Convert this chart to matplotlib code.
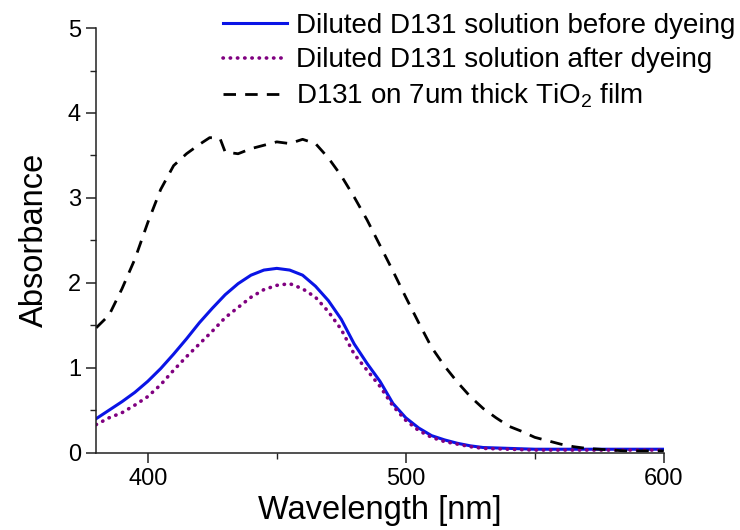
import numpy as np
import matplotlib
matplotlib.use("Agg")
import matplotlib.pyplot as plt
from matplotlib.ticker import MultipleLocator

plt.rcParams['font.family'] = ['Liberation Sans', 'DejaVu Sans']
plt.rcParams['mathtext.fontset'] = 'custom'
plt.rcParams['mathtext.rm'] = 'Liberation Sans'
plt.rcParams['mathtext.it'] = 'Liberation Sans:italic'

# wavelength grid [nm] and absorbance
wl_sol = [380, 385, 390, 395, 400, 405, 410, 415, 420, 425, 430, 435, 440, 445,
          450, 455, 460, 465, 470, 475, 480, 485, 490, 495, 500, 505, 510, 515,
          520, 525, 530, 540, 550, 575, 600]
before = [0.40, 0.50, 0.60, 0.71, 0.84, 0.99, 1.16, 1.34, 1.53, 1.70, 1.86, 1.99,
          2.09, 2.15, 2.17, 2.15, 2.09, 1.96, 1.79, 1.57, 1.28, 1.05, 0.84, 0.58,
          0.41, 0.29, 0.20, 0.15, 0.11, 0.08, 0.06, 0.05, 0.04, 0.04, 0.04]
after = [0.33, 0.41, 0.47, 0.56, 0.66, 0.80, 0.97, 1.13, 1.28, 1.43, 1.59, 1.71,
         1.83, 1.92, 1.97, 1.99, 1.93, 1.83, 1.66, 1.45, 1.16, 0.97, 0.78, 0.55,
         0.38, 0.26, 0.18, 0.13, 0.10, 0.07, 0.05, 0.04, 0.03, 0.03, 0.03]

wl_film = [380, 385, 390, 395, 400, 405, 410, 415, 420, 424, 428, 430, 435, 440,
           445, 450, 455, 460, 465, 470, 475, 480, 485, 490, 495, 500, 505, 510,
           515, 520, 525, 530, 535, 540, 545, 550, 555, 560, 565, 570, 575, 585, 600]
film = [1.47, 1.62, 1.93, 2.28, 2.71, 3.10, 3.38, 3.52, 3.63, 3.71, 3.70, 3.54,
        3.52, 3.58, 3.62, 3.66, 3.64, 3.69, 3.64, 3.47, 3.26, 3.01, 2.74, 2.44,
        2.14, 1.83, 1.53, 1.24, 1.02, 0.83, 0.66, 0.52, 0.41, 0.31, 0.25, 0.18,
        0.14, 0.10, 0.07, 0.05, 0.04, 0.02, 0.02]

fig = plt.figure(figsize=(7.4, 5.3), dpi=100)
ax = fig.add_axes([0.130, 0.146, 0.767, 0.801])

ax.plot(wl_sol, before, color='#0a14e6', lw=2.2, label='Diluted D131 solution before dyeing')
ax.plot(wl_sol, after, color='#800080', lw=2.6, dashes=(0.1, 1.9),
        dash_capstyle='round', label='Diluted D131 solution after dyeing')
ax.plot(wl_film, film, color='black', lw=2.0, dashes=(4.5, 3.3),
        label='D131 on 7um thick TiO$_2$ film')

ax.set_xlim(380, 600)
ax.set_ylim(0, 5)
ax.xaxis.set_major_locator(MultipleLocator(100))
ax.xaxis.set_minor_locator(MultipleLocator(50))
ax.yaxis.set_major_locator(MultipleLocator(1))
ax.yaxis.set_minor_locator(MultipleLocator(0.5))

for side in ['top', 'right']:
    ax.spines[side].set_visible(False)
for side in ['left', 'bottom']:
    ax.spines[side].set_linewidth(1.1)
    ax.spines[side].set_color('#222222')

ax.tick_params(which='major', direction='out', length=7, width=1.1,
               labelsize=17, color='#222222', pad=4)
ax.tick_params(which='minor', direction='out', length=4, width=1.0, color='#222222')

ax.set_xlabel('Wavelength [nm]', fontsize=23.5, labelpad=4)
ax.set_ylabel('Absorbance', fontsize=23.5, labelpad=13)

ax.legend(loc='upper right', bbox_to_anchor=(735 / 740, 1 - 13 / 530),
          bbox_transform=fig.transFigure, frameon=False, fontsize=20,
          handlelength=2.3, handletextpad=0.3, labelspacing=0.3,
          borderpad=0, borderaxespad=0)

fig.savefig('out.png', dpi=100)
